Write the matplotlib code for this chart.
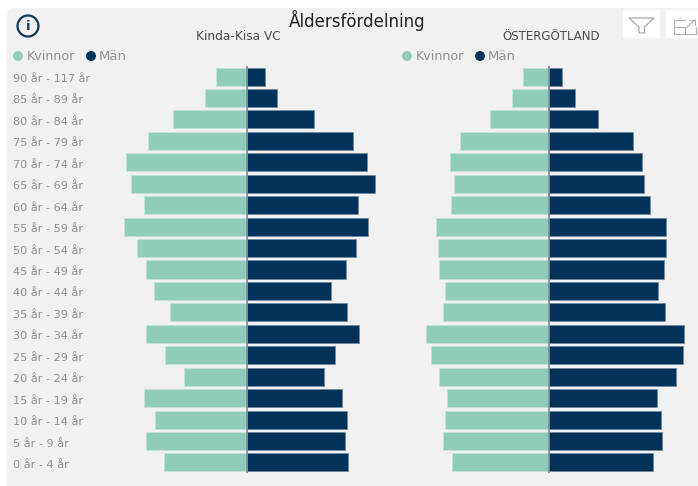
import matplotlib
matplotlib.use('Agg')
import matplotlib.pyplot as plt
from matplotlib.patches import FancyBboxPatch, Rectangle, Circle, Polygon
from matplotlib.transforms import ScaledTranslation

# values (bar length in px from the centre line)
age_groups = ['90 år - 117 år', '85 år - 89 år', '80 år - 84 år', '75 år - 79 år', '70 år - 74 år',
              '65 år - 69 år', '60 år - 64 år', '55 år - 59 år', '50 år - 54 år', '45 år - 49 år',
              '40 år - 44 år', '35 år - 39 år', '30 år - 34 år', '25 år - 29 år', '20 år - 24 år',
              '15 år - 19 år', '10 år - 14 år', '5 år - 9 år', '0 år - 4 år']
kinda_kvinnor = [31, 42, 74, 99, 121, 116, 103, 123, 110, 101, 93, 77, 101, 82, 63, 103, 92, 101, 83]
kinda_man = [18, 30, 67, 106, 120, 128, 111, 121, 109, 99, 84, 100, 112, 88, 77, 95, 100, 98, 101]
ostg_kvinnor = [26, 37, 59, 89, 99, 95, 98, 113, 111, 110, 104, 106, 123, 118, 110, 102, 104, 106, 97]
ostg_man = [13, 26, 49, 84, 93, 95, 101, 117, 117, 115, 109, 116, 135, 134, 127, 108, 112, 113, 104]

W, H = 698, 486
GREEN = '#8fccba'
NAVY = '#00325a'
GREY = '#8f8f8f'
PANEL = '#f1f1f1'
plt.rcParams['font.family'] = ['DejaVu Sans']


def px_axes(fig, x0, y0, x1, y1):
    # axes from pixel box, y measured from the top of the picture
    return fig.add_axes([x0 / W, 1 - y1 / H, (x1 - x0) / W, (y1 - y0) / H])


def pyramid(ax, women, men, xlim):
    y = list(range(len(women)))
    ax.barh(y, [-v for v in women], height=0.84, color=GREEN, edgecolor='#c4e2d9', linewidth=0.5)
    ax.barh(y, men, height=0.84, color=NAVY, edgecolor='#6d8aa3', linewidth=0.5)
    ax.axvline(0, color='#7d8a92', lw=1.2)
    ax.set_xlim(*xlim)
    ax.set_ylim(18.5, -0.5)
    ax.patch.set_alpha(0)
    ax.set_xticks([])
    for s in ax.spines.values():
        s.set_visible(False)


fig = plt.figure(figsize=(W / 100, H / 100), dpi=100, facecolor='white')

bg = fig.add_axes([0, 0, 1, 1])
bg.set_xlim(0, W)
bg.set_ylim(H, 0)
bg.axis('off')
bg.add_patch(FancyBboxPatch((7, 8), W + 20, H + 20, boxstyle='round,pad=0,rounding_size=8',
                            fc=PANEL, ec='none', lw=0))

# info icon
bg.add_patch(Circle((28, 26), 10.5, fc='none', ec='#123a5c', lw=1.6))
bg.text(28, 26.5, 'i', ha='center', va='center', fontsize=9.5, fontweight='bold', color='#123a5c')

# filter and focus buttons
bg.add_patch(Rectangle((623, 10), 37, 28, fc='white', ec='none'))
bg.add_patch(Rectangle((666, 10), 32, 28, fc='white', ec='none'))
bg.add_patch(Polygon([(629, 18), (654, 18), (644.5, 27), (644.5, 33), (639, 33), (639, 27)],
                     closed=True, fc='none', ec='#a0a0a0', lw=0.8))
bg.plot([685, 674, 674, 696, 696], [20, 20, 34, 34, 27], color='#b0b0b0', lw=0.8)
bg.plot([674, 685, 685], [27, 27, 34], color='#b0b0b0', lw=0.8)
bg.plot([686, 695], [28, 20], color='#b0b0b0', lw=0.8)
bg.plot([689, 695, 695], [20, 20, 25], color='#b0b0b0', lw=0.8)

# titles
bg.text(357, 20.5, 'Åldersfördelning', ha='center', va='center', fontsize=12, color='#222222')
bg.text(238.5, 36.5, 'Kinda-Kisa VC', ha='center', va='center', fontsize=8.7, color='#4a4a4a')
bg.text(551, 36.5, 'ÖSTERGÖTLAND', ha='center', va='center', fontsize=8.5, color='#4a4a4a')

# legends
for green_x, navy_x in [(18, 91), (407, 480)]:
    bg.add_patch(Circle((green_x, 56), 5, fc=GREEN, ec='none'))
    bg.text(green_x + 9, 56.5, 'Kvinnor', va='center', fontsize=9.1, color=GREY)
    bg.add_patch(Circle((navy_x, 56), 5, fc=NAVY, ec='none'))
    bg.text(navy_x + 8, 56.5, 'Män', va='center', fontsize=9.5, color=GREY)

ax1 = px_axes(fig, 100, 65.8, 390, 473.2)
pyramid(ax1, kinda_kvinnor, kinda_man, (-147, 143))
ax1.set_yticks(range(len(age_groups)))
ax1.set_yticklabels(age_groups, ha='left', va='center_baseline', fontsize=8.1, color=GREY)
ax1.tick_params(axis='y', length=0, pad=87 * 0.72)
# labels sit a bit below the bar centres in the reference
for lab in ax1.get_yticklabels():
    lab.set_transform(lab.get_transform() + ScaledTranslation(0, -1.5 / 100, fig.dpi_scale_trans))

ax2 = px_axes(fig, 400, 65.8, 698, 473.2)
pyramid(ax2, ostg_kvinnor, ostg_man, (-149, 149))
ax2.set_yticks([])

fig.savefig('out.png', dpi=100)
